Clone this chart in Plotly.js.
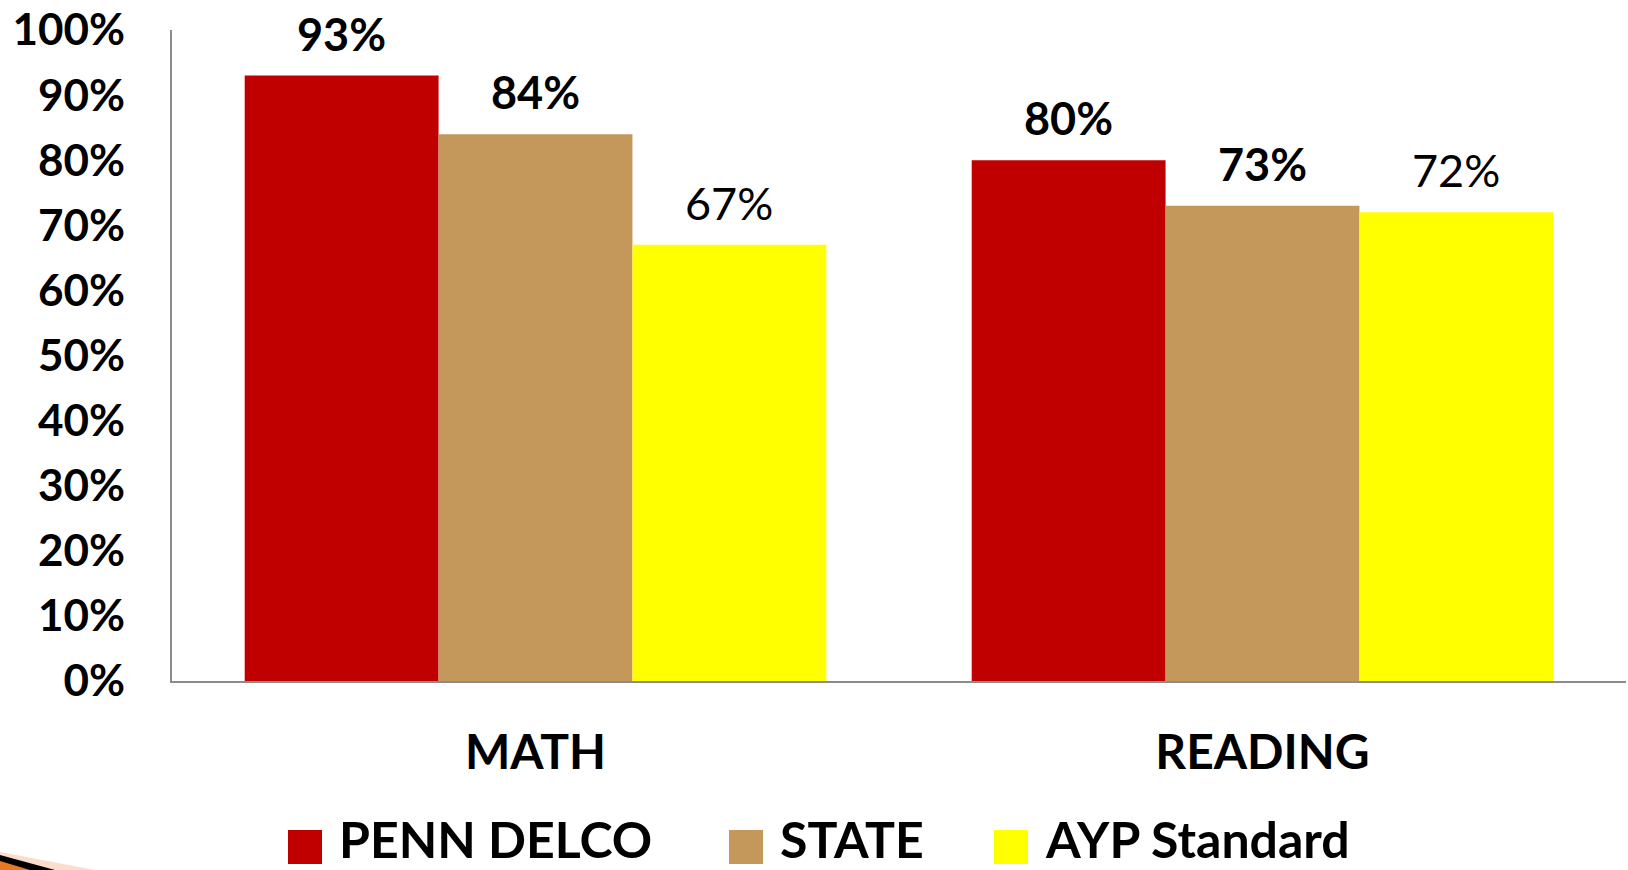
<!DOCTYPE html>
<html>
<head>
<meta charset="utf-8">
<script src="https://cdn.plot.ly/plotly-3.0.1.min.js"></script>
<style>html,body{margin:0;padding:0;background:#fff;}#chart{width:1628px;height:870px;}</style>
</head>
<body>
<div id="chart"></div>
<script>
const categories = ["MATH", "READING"];
const seriesNames = ["PENN DELCO", "STATE", "AYP Standard"];
const pennDelco = [0.93, 0.80];
const state = [0.84, 0.73];
const aypStandard = [0.67, 0.72];
const seriesColors = ["#C00000", "#C4985B", "#FFFF00"];
const labelBold = [true, true, false];
const yTickVals = [0, 0.1, 0.2, 0.3, 0.4, 0.5, 0.6, 0.7, 0.8, 0.9, 1.0];

const allSeries = [pennDelco, state, aypStandard];
const FONT = "Lato, 'Open Sans', sans-serif";
const W = 1628, H = 870, ML = 172, MR = 2, MT = 30, MB = 189;
const plotW = W - ML - MR, plotH = H - MT - MB;
const px = x => (x - ML) / plotW;
const py = y => (H - MB - y) / plotH;

const bargap = 0.2;
const nS = allSeries.length;
const barW = (1 - bargap) / nS;
const xIdx = categories.map((c, i) => i);

const traces = allSeries.map((vals, j) => ({
  type: 'bar',
  x: xIdx,
  y: vals,
  name: seriesNames[j],
  marker: {color: seriesColors[j], line: {width: 0}},
  showlegend: false,
  hoverinfo: 'skip'
}));

const annotations = [];
allSeries.forEach((vals, j) => {
  vals.forEach((v, i) => {
    annotations.push({
      x: i + (j - (nS - 1) / 2) * barW,
      y: v,
      xref: 'x', yref: 'y',
      text: Math.round(v * 100) + '%',
      showarrow: false,
      yanchor: 'bottom',
      yshift: 14,
      borderpad: 0,
      font: {family: FONT, size: 45, color: '#000', weight: labelBold[j] ? 'bold' : 'normal'}
    });
  });
});

// manual legend
const legendSwatchX = [288, 729, 994];
const legendTextGap = 50;
const shapes = [];
seriesNames.forEach((n, j) => {
  shapes.push({
    type: 'rect', xref: 'paper', yref: 'paper', layer: 'above',
    x0: px(legendSwatchX[j]), x1: px(legendSwatchX[j] + 34),
    y0: py(864), y1: py(830),
    fillcolor: seriesColors[j], line: {width: 0}
  });
  annotations.push({
    xref: 'paper', yref: 'paper',
    x: px(legendSwatchX[j] + legendTextGap), y: py(869.5),
    xanchor: 'left', yanchor: 'bottom', borderpad: 0,
    text: n, showarrow: false,
    font: {family: FONT, size: 50, color: '#000', weight: 'bold'}
  });
});

// decorative swoosh at bottom-left corner
const P = (x, y) => px(x) + ',' + py(y);
shapes.push({type: 'path', xref: 'paper', yref: 'paper', layer: 'above',
  path: 'M' + P(0, 852) + ' L' + P(95, 870) + ' L' + P(0, 870) + ' Z',
  fillcolor: '#FCDCCB', line: {width: 0}});
shapes.push({type: 'path', xref: 'paper', yref: 'paper', layer: 'above',
  path: 'M' + P(0, 855) + ' L' + P(55, 870) + ' L' + P(0, 870) + ' Z',
  fillcolor: '#000000', line: {width: 0}});
shapes.push({type: 'path', xref: 'paper', yref: 'paper', layer: 'above',
  path: 'M' + P(0, 861) + ' L' + P(30, 870) + ' L' + P(0, 870) + ' Z',
  fillcolor: '#E8791F', line: {width: 0}});

const layout = {
  width: W, height: H,
  margin: {l: ML, r: MR, t: MT, b: MB, pad: 0},
  paper_bgcolor: '#fff', plot_bgcolor: '#fff',
  bargap: bargap, bargroupgap: 0, barmode: 'group',
  showlegend: false,
  xaxis: {
    type: 'linear', range: [-0.5, categories.length - 0.5],
    tickvals: xIdx, ticktext: categories,
    showgrid: false, zeroline: false,
    showline: true, linecolor: '#8C8C8C', linewidth: 2,
    ticks: '', ticklabelstandoff: 28,
    tickfont: {family: FONT, size: 48, color: '#000', weight: 'bold'},
    fixedrange: true
  },
  yaxis: {
    range: [0, 1], tickvals: yTickVals, tickformat: '.0%',
    showgrid: false, zeroline: false,
    showline: true, linecolor: '#8C8C8C', linewidth: 2,
    ticks: '', ticklabelstandoff: 36,
    tickfont: {family: FONT, size: 44, color: '#000', weight: 'bold'},
    fixedrange: true
  },
  annotations: annotations,
  shapes: shapes
};

Plotly.newPlot('chart', traces, layout, {displayModeBar: false, staticPlot: true});
</script>
</body>
</html>
